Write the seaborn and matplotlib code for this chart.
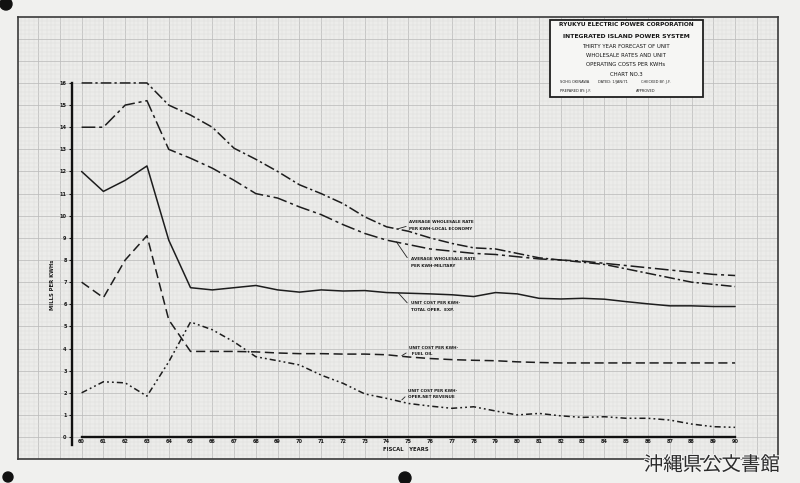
import numpy as np
import pandas as pd
import seaborn as sns
import matplotlib.pyplot as plt
from matplotlib.patches import Rectangle, Ellipse
from matplotlib.ticker import MultipleLocator
import matplotlib.patheffects as pe

# fiscal years and the five curves (mills per kWh)
years = list(range(60, 91))
local_economy = [16.0, 16.0, 16.0, 16.0, 15.0, 14.55, 14.0, 13.05, 12.55, 12.0, 11.4,
                 11.0, 10.55, 9.95, 9.5, 9.3, 9.0, 8.75, 8.55, 8.5, 8.3,
                 8.1, 8.0, 7.9, 7.8, 7.6, 7.4, 7.2, 7.0, 6.9, 6.8]
military = [14.0, 14.0, 15.0, 15.2, 13.0, 12.6, 12.15, 11.6, 11.0, 10.8, 10.4,
            10.05, 9.6, 9.2, 8.9, 8.7, 8.5, 8.4, 8.3, 8.25, 8.15,
            8.05, 8.0, 7.95, 7.85, 7.75, 7.65, 7.55, 7.45, 7.35, 7.3]
total_oper_exp = [12.0, 11.1, 11.6, 12.25, 8.9, 6.75, 6.65, 6.75, 6.85, 6.65, 6.55,
                  6.65, 6.6, 6.62, 6.53, 6.5, 6.47, 6.43, 6.35, 6.53, 6.47,
                  6.27, 6.24, 6.27, 6.23, 6.12, 6.02, 5.93, 5.93, 5.9, 5.9]
fuel_oil = [7.0, 6.3, 8.0, 9.1, 5.3, 3.87, 3.87, 3.87, 3.85, 3.8, 3.77,
            3.77, 3.75, 3.75, 3.72, 3.62, 3.55, 3.5, 3.47, 3.45, 3.4,
            3.37, 3.35, 3.35, 3.35, 3.35, 3.35, 3.35, 3.35, 3.35, 3.35]
net_revenue = [2.0, 2.5, 2.45, 1.85, 3.4, 5.2, 4.85, 4.3, 3.63, 3.45, 3.26,
               2.8, 2.43, 1.95, 1.75, 1.52, 1.4, 1.3, 1.37, 1.18, 1.0,
               1.07, 0.96, 0.89, 0.92, 0.85, 0.85, 0.77, 0.59, 0.47, 0.44]

series_names = ["local", "military", "total", "fuel", "net"]
series_values = [local_economy, military, total_oper_exp, fuel_oil, net_revenue]

df = pd.concat([pd.DataFrame({"year": years, "mills": v, "series": n})
                for n, v in zip(series_names, series_values)], ignore_index=True)

dash_map = {
    "local": (7, 2, 1.5, 2),
    "military": (9, 2.5, 2, 2.5),
    "total": "",
    "fuel": (6, 3),
    "net": (4, 2, 1.2, 2, 1.2, 2),
}

sns.set_theme(style="white")
plt.rcParams['font.family'] = ['DejaVu Sans', 'Noto Sans CJK JP']

W, H = 800, 483
def fx(x): return x / W
def fy(y): return 1 - y / H

fig = plt.figure(figsize=(8, 4.83), dpi=100, facecolor='#f0f0ee')

# graph paper area (pixels): left 18, top 17, right 778, bottom 459
rect = [fx(18), fy(459), (778 - 18) / W, (459 - 17) / H]
xlim = (57.08, 91.97)
ylim = (-0.99, 18.98)

# background graph paper
bg = fig.add_axes(rect)
bg.set_facecolor('#ececea')
bg.set_xlim(*xlim)
bg.set_ylim(*ylim)
bg.xaxis.set_major_locator(MultipleLocator(1))
bg.yaxis.set_major_locator(MultipleLocator(1))
bg.xaxis.set_minor_locator(MultipleLocator(0.2))
bg.yaxis.set_minor_locator(MultipleLocator(0.2))
bg.grid(True, which='major', color='#bcbcbc', lw=0.55)
bg.grid(True, which='minor', color='#dcdcdb', lw=0.3)
bg.tick_params(which='both', length=0, labelbottom=False, labelleft=False)
for s in bg.spines.values():
    s.set_color('#3a3a3a')
    s.set_linewidth(1.2)

# main chart
ax = fig.add_axes(rect)
ax.patch.set_alpha(0)
sns.lineplot(data=df, x="year", y="mills", style="series", style_order=series_names,
             dashes=dash_map, color='#1d1d1d', linewidth=1.1, errorbar=None,
             legend=False, ax=ax)
ax.set_xlim(*xlim)
ax.set_ylim(*ylim)

ax.spines['top'].set_visible(False)
ax.spines['right'].set_visible(False)
ax.spines['left'].set_position(('data', 59.55))
ax.spines['left'].set_bounds(-0.35, 16)
ax.spines['bottom'].set_position(('data', 0))
ax.spines['bottom'].set_bounds(60, 90)
for side in ['left', 'bottom']:
    ax.spines[side].set_color('#111111')
    ax.spines[side].set_linewidth(1.7)

ax.set_xticks(years)
ax.set_xticklabels([str(y) for y in years])
ax.set_yticks(range(0, 17))
ax.tick_params(axis='x', length=0, pad=1.5, labelsize=3.6, colors='#1a1a1a')
ax.tick_params(axis='y', length=2.5, width=0.8, pad=1.2, labelsize=3.6,
               colors='#1a1a1a', left=True)
for lab in ax.get_xticklabels() + ax.get_yticklabels():
    lab.set_fontweight('bold')

ax.set_ylabel('MILLS PER KWHs', fontsize=3.8, fontweight='bold', color='#1a1a1a')
ax.yaxis.set_label_coords(0.0487, 0.394)
ax.set_xlabel('FISCAL   YEARS', fontsize=3.8, fontweight='bold', color='#1a1a1a')
ax.xaxis.set_label_coords(0.5105, 0.027)

# curve labels with leader lines
labels = [
    ("AVERAGE WHOLESALE RATE\nPER KWH-LOCAL ECONOMY", (74.55, 9.42), (75.05, 9.56)),
    ("AVERAGE WHOLESALE RATE\nPER KWH-MILITARY", (74.45, 8.82), (75.1, 7.89)),
    ("UNIT COST PER KWH-\nTOTAL OPER.  EXP.", (74.55, 6.5), (75.1, 5.9)),
    ("UNIT COST PER KWH-\n  FUEL OIL", (74.7, 3.68), (75.05, 3.89)),
    ("UNIT COST PER KWH-\nOPER.NET REVENUE", (74.7, 1.68), (75.0, 1.96)),
]
for txt, xy, xyt in labels:
    ax.annotate(txt, xy=xy, xytext=xyt, fontsize=3.0, fontweight='bold',
                color='#1a1a1a', ha='left', va='center', linespacing=1.7,
                arrowprops=dict(arrowstyle='-', lw=0.6, color='#222222',
                                shrinkA=0, shrinkB=0, relpos=(0, 0.5)))

# title block
fig.patches.append(Rectangle((fx(550), fy(97)), 153 / W, 77 / H, transform=fig.transFigure,
                             facecolor='#f6f6f4', edgecolor='#1e1e1e', lw=1.3, zorder=5))
title_lines = [
    ("RYUKYU ELECTRIC POWER CORPORATION", 25, 4.25, 'bold'),
    ("INTEGRATED ISLAND POWER SYSTEM", 36, 4.4, 'bold'),
    ("THIRTY YEAR FORECAST OF UNIT", 47, 3.9, 'normal'),
    ("WHOLESALE RATES AND UNIT", 55.5, 3.9, 'normal'),
    ("OPERATING COSTS PER KWHs", 64, 3.9, 'normal'),
    ("CHART NO.3", 75, 3.9, 'normal'),
]
for txt, y, size, w in title_lines:
    fig.text(fx(626), fy(y), txt, ha='center', va='center', fontsize=size,
             fontweight=w, color='#151515', zorder=6)
fig.text(fx(560), fy(82), "SOHG OKINAWA", fontsize=2.6, color='#222', va='center', zorder=6)
fig.text(fx(598), fy(82), "DATED: 1/JAN/71", fontsize=2.6, color='#222', va='center', zorder=6)
fig.text(fx(641), fy(82), "CHECKED BY: J.F.", fontsize=2.6, color='#222', va='center', zorder=6)
fig.text(fx(560), fy(91), "PREPARED BY: J.F.", fontsize=2.6, color='#222', va='center', zorder=6)
fig.text(fx(636), fy(91), "APPROVED", fontsize=2.6, color='#222', va='center', zorder=6)

# archive watermark
fig.text(fx(712), fy(465), "沖縄県公文書館", family=['Noto Sans CJK JP'], fontsize=14,
         color='#2b2b2b', ha='center', va='center', zorder=7,
         path_effects=[pe.withStroke(linewidth=1.5, foreground='#f4f4f4')])

# punch holes on the sheet
for cx, cy, r in [(405, 478, 6), (6, 4, 6), (8, 477, 5)]:
    fig.patches.append(Ellipse((fx(cx), fy(cy)), 2 * r / W, 2 * r / H,
                               transform=fig.transFigure, color='#111111', zorder=7))

fig.savefig("out.png", dpi=100, facecolor=fig.get_facecolor())
